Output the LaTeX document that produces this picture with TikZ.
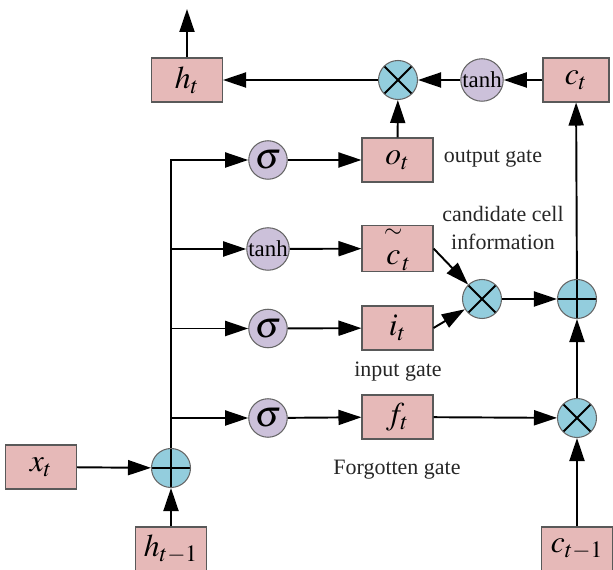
\documentclass[tikz,border=0pt]{standalone}
\usepackage{mathptmx}
\usepackage[no-math]{fontspec}
\setmainfont{Liberation Serif}
\usepackage{tikz}
\usetikzlibrary{arrows.meta}

\definecolor{boxpink}{RGB}{230,185,184}
\definecolor{actlilac}{RGB}{204,193,218}
\definecolor{opcyan}{RGB}{147,205,221}

\tikzset{
    gatebox/.style={draw=black!65, line width=0.6pt, fill=boxpink,
        minimum width=1.42cm, minimum height=0.88cm, inner sep=0pt,
        font=\fontsize{18}{20}\selectfont},
    actnode/.style={circle, draw=black!60, line width=0.6pt, fill=actlilac,
        minimum size=0.77cm, inner sep=0pt},
    opnode/.style={circle, draw=black!60, line width=0.6pt, fill=opcyan,
        minimum size=0.78cm, inner sep=0pt},
    mulnode/.style={opnode, path picture={
        \draw[black, line width=1.1pt]
            (path picture bounding box.north west) -- (path picture bounding box.south east)
            (path picture bounding box.north east) -- (path picture bounding box.south west);}},
    addnode/.style={opnode, path picture={
        \draw[black, line width=1.1pt]
            (path picture bounding box.north) -- (path picture bounding box.south)
            (path picture bounding box.west) -- (path picture bounding box.east);}},
    gatelabel/.style={font=\fontsize{12.5}{15.4}\selectfont, text=black!85},
    sigfont/.style={font=\fontsize{21}{21}\selectfont},
    tanhfont/.style={font=\fontsize{13}{13}\selectfont}
}

\begin{document}
\begin{tikzpicture}[>={Triangle[length=4.6mm, width=3mm]}, line width=1.1pt]
    \useasboundingbox (0,0) rectangle (12.26,11.4);

    % Bemenetek
    \node[gatebox] (xt) at (0.82, 2.06) {$x_t$};
    \node[gatebox] (hprev) at (3.42, 0.42) {$h_{t-1}$};
    \node[addnode] (addL) at (3.42, 2.04) {};

    % Aktivációk (sigma, tanh)
    \node[actnode, sigfont] (sig1) at (5.36, 8.2) {$\sigma$};
    \node[actnode, tanhfont] (th2) at (5.36, 6.42) {tanh};
    \node[actnode, sigfont] (sig3) at (5.36, 4.83) {$\sigma$};
    \node[actnode, sigfont] (sig4) at (5.36, 3.04) {$\sigma$};

    % Kapuk
    \node[gatebox] (ot) at (7.95, 8.2) {$o_t$};
    \node[gatebox] (cand) at (7.95, 6.43)
        {$\stackrel{\raisebox{0.5ex}{$\scriptstyle\sim$}}{c}_t$};
    \node[gatebox] (it) at (7.95, 4.84) {$i_t$};
    \node[gatebox] (ft) at (7.95, 3.06) {$f_t$};

    % Kapuk feliratai
    \node[gatelabel, anchor=west] (outlbl) at (8.74, 8.23) {output gate};
    \node[gatelabel, align=center] (candlbl) at (10.06, 6.84) {candidate cell\\information};
    \node[gatelabel] (inlbl) at (7.96, 3.96) {input gate};
    \node[gatelabel] (forglbl) at (7.94, 2.0) {Forgotten gate};

    % Cellaállapot és kimenet
    \node[mulnode] (mulM) at (9.64, 5.42) {};
    \node[addnode] (addR) at (11.54, 5.42) {};
    \node[mulnode] (mulB) at (11.54, 3.04) {};
    \node[gatebox] (cprev) at (11.54, 0.42) {$c_{t-1}$};
    \node[gatebox, minimum width=1.32cm] (ct) at (11.52, 9.8) {$c_t$};
    \node[actnode, tanhfont] (thT) at (9.64, 9.8) {tanh};
    \node[mulnode] (mulT) at (7.96, 9.8) {};
    \node[gatebox] (ht) at (3.74, 9.8) {$h_t$};
    \coordinate (hout) at (3.74, 11.22);

    % Nyilak
    \draw[->] (xt) -- (addL);
    \draw[->] (hprev) -- (addL);
    \draw[->] (addL.north) |- (sig1);
    \draw[->] (addL |- th2) -- (th2);
    \draw[->] (addL |- sig3) -- (sig3);
    \draw[->] (addL |- sig4) -- (sig4);
    \draw[->] (sig1) -- (ot);
    \draw[->] (th2) -- (cand);
    \draw[->] (sig3) -- (it);
    \draw[->] (sig4) -- (ft);
    \draw[->] (cand.east) -- (mulM);
    \draw[->] (it.east) -- (mulM);
    \draw[->] (mulM) -- (addR);
    \draw[->] (ft) -- (mulB);
    \draw[->] (cprev) -- (mulB);
    \draw[->] (mulB) -- (addR);
    \draw[->] (addR) -- (ct);
    \draw[->] (ct) -- (thT);
    \draw[->] (thT) -- (mulT);
    \draw[->] (ot) -- (mulT);
    \draw[->] (mulT) -- (ht);
    \draw[->] (ht) -- (hout);

\end{tikzpicture}
\end{document}
